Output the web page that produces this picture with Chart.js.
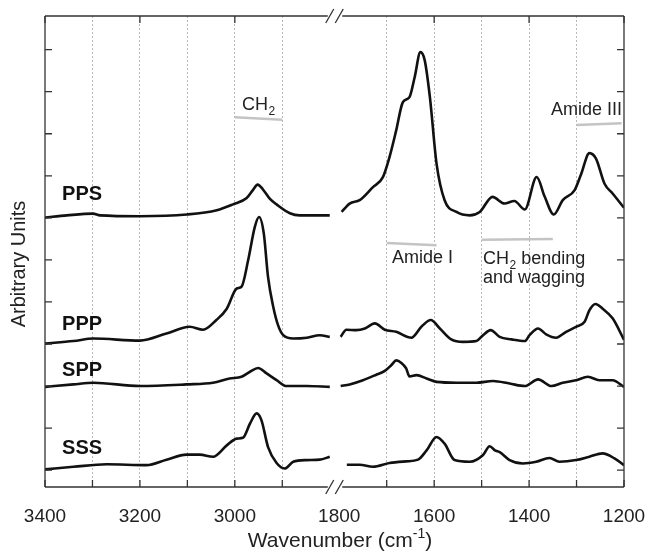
<!DOCTYPE html>
<html>
<head>
<meta charset="utf-8">
<script src="https://cdn.jsdelivr.net/npm/chart.js@4.4.1/dist/chart.umd.min.js"></script>
<style>
  html, body { margin: 0; padding: 0; background: #fff; }
</style>
</head>
<body>
<canvas id="irChart" width="647" height="559"></canvas>
<script>
// ---- Espectros IR (unidades arbitrarias, ya desplazados verticalmente) ----
// PPS
const ppsWnL = [3400, 3354, 3299, 3284, 3200, 3101, 3038, 3004, 2975, 2962, 2952, 2941, 2926, 2912, 2884, 2863, 2800];
const ppsAbL = [6.01, 6.06, 6.10, 6.06, 6.04, 6.08, 6.18, 6.32, 6.47, 6.66, 6.79, 6.68, 6.45, 6.32, 6.11, 6.06, 6.06];
const ppsWnR = [1795, 1778, 1757, 1729, 1708, 1694, 1680, 1666, 1652, 1641, 1629, 1620, 1609, 1595, 1578, 1553, 1525, 1504, 1477, 1452, 1431, 1409, 1384, 1367, 1348, 1329, 1304, 1290, 1273, 1259, 1241, 1224, 1200];
const ppsAbR = [6.14, 6.34, 6.42, 6.73, 6.97, 7.45, 8.08, 8.75, 8.87, 9.35, 9.94, 9.75, 8.87, 7.29, 6.42, 6.14, 6.06, 6.14, 6.50, 6.34, 6.40, 6.20, 6.97, 6.50, 6.08, 6.42, 6.66, 7.05, 7.54, 7.41, 6.81, 6.58, 6.24];
// PPP
const pppWnL = [3400, 3340, 3298, 3200, 3144, 3095, 3067, 3039, 3017, 2996, 2986, 2972, 2958, 2949, 2939, 2930, 2919, 2909, 2898, 2877, 2848, 2821, 2800];
const pppAbL = [3.01, 3.07, 3.13, 3.08, 3.25, 3.41, 3.34, 3.57, 3.84, 4.32, 4.36, 4.99, 5.78, 6.02, 5.63, 4.59, 3.88, 3.45, 3.21, 3.13, 3.15, 3.21, 3.17];
const pppWnR = [1797, 1785, 1764, 1746, 1725, 1704, 1680, 1648, 1627, 1607, 1588, 1564, 1539, 1511, 1497, 1481, 1462, 1437, 1409, 1399, 1381, 1364, 1343, 1322, 1301, 1283, 1273, 1260, 1245, 1224, 1200];
const pppAbR = [3.17, 3.34, 3.33, 3.37, 3.49, 3.34, 3.29, 3.15, 3.41, 3.57, 3.37, 3.11, 3.05, 3.07, 3.21, 3.33, 3.17, 3.11, 3.07, 3.21, 3.37, 3.23, 3.15, 3.29, 3.41, 3.53, 3.80, 3.95, 3.84, 3.61, 3.10];
// SPP
const sppWnL = [3400, 3340, 3298, 3200, 3102, 3046, 3011, 2986, 2968, 2951, 2933, 2912, 2891, 2849, 2800];
const sppAbL = [1.98, 2.04, 2.08, 2.00, 2.04, 2.08, 2.18, 2.22, 2.34, 2.43, 2.30, 2.14, 2.00, 2.00, 1.98];
const sppWnR = [1797, 1778, 1750, 1722, 1704, 1690, 1680, 1669, 1659, 1652, 1637, 1616, 1595, 1553, 1511, 1476, 1441, 1409, 1381, 1353, 1329, 1301, 1276, 1252, 1224, 1200];
const sppAbR = [2.00, 2.04, 2.14, 2.27, 2.36, 2.50, 2.61, 2.55, 2.42, 2.23, 2.26, 2.18, 2.10, 2.08, 2.08, 2.12, 2.06, 2.00, 2.16, 2.00, 2.08, 2.14, 2.22, 2.14, 2.14, 1.98];
// SSS
const sssWnL = [3400, 3340, 3270, 3186, 3144, 3102, 3074, 3046, 3017, 2996, 2983, 2968, 2954, 2944, 2930, 2912, 2895, 2877, 2849, 2821, 2800];
const sssAbL = [0.02, 0.08, 0.14, 0.12, 0.25, 0.37, 0.37, 0.32, 0.59, 0.75, 0.77, 1.11, 1.35, 1.19, 0.55, 0.17, 0.04, 0.20, 0.24, 0.25, 0.32];
const sssWnR = [1784, 1757, 1729, 1694, 1659, 1634, 1616, 1595, 1578, 1557, 1525, 1497, 1483, 1472, 1462, 1441, 1413, 1385, 1357, 1336, 1301, 1273, 1245, 1220, 1200];
const sssAbR = [0.13, 0.13, 0.08, 0.17, 0.21, 0.25, 0.47, 0.79, 0.63, 0.24, 0.20, 0.36, 0.57, 0.47, 0.43, 0.24, 0.16, 0.20, 0.29, 0.20, 0.24, 0.32, 0.40, 0.28, 0.12];

// Ticks del eje x (numero de onda) y del eje y
const tickWn = [3400, 3300, 3200, 3100, 3000, 2900, 2800, 1800, 1700, 1600, 1500, 1400, 1300, 1200];
const labelWn = [3400, 3200, 3000, 1800, 1600, 1400, 1200];
const gridWn = [3300, 3200, 3100, 3000, 2900, 1700, 1600, 1500, 1400, 1300];
const yTicks = [0, 1, 2, 3, 4, 5, 6, 7, 8, 9, 10];

// El eje esta cortado: 3400-2800 y 1800-1200, con un pequeño hueco entre ambos
const GAP = 20;
const toAxis = (wn) => wn >= 2800 ? 3400 - wn : 600 + GAP + (1800 - wn);
const fromAxis = (u) => u <= 600 ? 3400 - u : 1800 - (u - 600 - GAP);

const buildSeries = (wnL, abL, wnR, abR) => [
    ...wnL.map((w, i) => ({ x: toAxis(w), y: abL[i] })),
    { x: 610, y: null },
    ...wnR.map((w, i) => ({ x: toAxis(w), y: abR[i] }))
];

const FONT = '"Liberation Sans", Arial, Helvetica, sans-serif';
Chart.defaults.font.family = FONT;

// Texto, marcos, ticks hacia adentro y marcas de corte
const decorPlugin = {
    id: 'decor',
    afterDatasetsDraw(chart) {
        const ctx = chart.ctx;
        const xs = chart.scales.x;
        const ys = chart.scales.y;
        const px = (wn) => xs.getPixelForValue(toAxis(wn));
        const py = (v) => ys.getPixelForValue(v);
        const { left, right, top, bottom } = chart.chartArea;

        ctx.save();
        // marco con hueco en el corte
        ctx.strokeStyle = '#333';
        ctx.lineWidth = 1.3;
        const b1 = xs.getPixelForValue(600) - 2;
        const b2 = xs.getPixelForValue(600 + GAP) + 3;
        ctx.beginPath();
        ctx.moveTo(left, top); ctx.lineTo(b1, top);
        ctx.moveTo(b2, top); ctx.lineTo(right, top);
        ctx.moveTo(left, bottom); ctx.lineTo(b1, bottom);
        ctx.moveTo(b2, bottom); ctx.lineTo(right, bottom);
        ctx.moveTo(left, top); ctx.lineTo(left, bottom);
        ctx.moveTo(right, top); ctx.lineTo(right, bottom);
        ctx.stroke();

        // marcas "//"
        [600, 600 + GAP].forEach((u) => {
            const x = xs.getPixelForValue(u);
            [top, bottom].forEach((y) => {
                ctx.beginPath();
                ctx.moveTo(x - 4, y + 7);
                ctx.lineTo(x + 4, y - 7);
                ctx.stroke();
            });
        });

        // ticks x hacia adentro
        xs.ticks.forEach((t) => {
            const wn = fromAxis(t.value);
            if (wn === 2800 || wn === 1800) return;
            const x = xs.getPixelForValue(t.value);
            ctx.beginPath();
            ctx.moveTo(x, bottom); ctx.lineTo(x, bottom - 7);
            if (wn % 200 === 0) { ctx.moveTo(x, top); ctx.lineTo(x, top + 7); }
            ctx.stroke();
        });
        // ticks y hacia adentro, izquierda y derecha
        ys.ticks.forEach((t) => {
            const y = ys.getPixelForValue(t.value);
            ctx.beginPath();
            ctx.moveTo(left, y); ctx.lineTo(left + 7, y);
            ctx.moveTo(right, y); ctx.lineTo(right - 7, y);
            ctx.stroke();
        });

        // lineas grises de las bandas
        ctx.strokeStyle = '#c4c4c4';
        ctx.lineWidth = 2.5;
        const bands = [
            [3000, 8.39, 2900, 8.33],
            [1700, 5.40, 1595, 5.35],
            [1500, 5.48, 1350, 5.50],
            [1300, 8.21, 1205, 8.25]
        ];
        bands.forEach(([w1, v1, w2, v2]) => {
            ctx.beginPath();
            ctx.moveTo(px(w1), py(v1));
            ctx.lineTo(px(w2), py(v2));
            ctx.stroke();
        });

        // nombres de las muestras
        ctx.fillStyle = '#111';
        ctx.textBaseline = 'alphabetic';
        ctx.textAlign = 'left';
        ctx.font = 'bold 20px ' + FONT;
        [['PPS', 6.43], ['PPP', 3.33], ['SPP', 2.24], ['SSS', 0.39]].forEach(([name, v]) => {
            ctx.fillText(name, px(3364), py(v));
        });

        // etiquetas de bandas (con subindice)
        ctx.fillStyle = '#222';
        const sub = (x, y, main, s, rest) => {
            ctx.font = '18px ' + FONT;
            ctx.fillText(main, x, y);
            let w = ctx.measureText(main).width;
            ctx.font = '12px ' + FONT;
            ctx.fillText(s, x + w + 0.5, y + 5);
            w += ctx.measureText(s).width + 0.5;
            if (rest) {
                ctx.font = '18px ' + FONT;
                ctx.fillText(rest, x + w, y);
            }
        };
        sub(px(2985), py(8.57), 'CH', '2', '');
        sub(px(1497), py(4.90), 'CH', '2', ' bending');
        ctx.font = '18px ' + FONT;
        ctx.fillText('and wagging', px(1497), py(4.45));
        ctx.fillText('Amide I', px(1689), py(4.93));
        ctx.textAlign = 'right';
        ctx.fillText('Amide III', px(1204), py(8.45));

        // titulos de los ejes
        ctx.textAlign = 'left';
        ctx.font = '21px ' + FONT;
        const t1 = 'Wavenumber (cm';
        const w1 = ctx.measureText(t1).width;
        ctx.font = '14px ' + FONT;
        const ws = ctx.measureText('-1').width;
        ctx.font = '21px ' + FONT;
        const w3 = ctx.measureText(')').width;
        const startX = 340 - (w1 + ws + w3) / 2;
        ctx.fillText(t1, startX, 547);
        ctx.font = '14px ' + FONT;
        ctx.fillText('-1', startX + w1, 538);
        ctx.font = '21px ' + FONT;
        ctx.fillText(')', startX + w1 + ws, 547);

        ctx.font = '20px ' + FONT;
        ctx.translate(19, 264);
        ctx.rotate(-Math.PI / 2);
        ctx.textAlign = 'center';
        ctx.textBaseline = 'middle';
        ctx.fillText('Arbitrary Units', 0, 0);
        ctx.restore();
    }
};

const lineStyle = {
    borderColor: '#111',
    borderWidth: 2.6,
    pointRadius: 0,
    fill: false,
    cubicInterpolationMode: 'monotone',
    spanGaps: false
};

const irChart = new Chart(document.getElementById('irChart'), {
    type: 'line',
    data: {
        datasets: [
            { label: 'PPS', data: buildSeries(ppsWnL, ppsAbL, ppsWnR, ppsAbR), ...lineStyle },
            { label: 'PPP', data: buildSeries(pppWnL, pppAbL, pppWnR, pppAbR), ...lineStyle },
            { label: 'SPP', data: buildSeries(sppWnL, sppAbL, sppWnR, sppAbR), ...lineStyle },
            { label: 'SSS', data: buildSeries(sssWnL, sssAbL, sssWnR, sssAbR), ...lineStyle }
        ]
    },
    options: {
        responsive: false,
        animation: false,
        devicePixelRatio: 1,
        layout: { padding: { top: 16, right: 23, left: 0, bottom: 0 } },
        plugins: { legend: { display: false }, tooltip: { enabled: false } },
        scales: {
            x: {
                type: 'linear',
                min: 0,
                max: 600 + GAP + 600,
                afterFit: (scale) => {
                    scale.height = 72;
                    scale.paddingLeft = 0;
                    scale.paddingRight = 0;
                },
                afterBuildTicks: (scale) => { scale.ticks = tickWn.map((w) => ({ value: toAxis(w) })); },
                border: { display: false, dash: [2, 2] },
                grid: {
                    drawTicks: false,
                    lineWidth: 1,
                    color: (c) => (c.tick && gridWn.includes(fromAxis(c.tick.value))) ? '#b8b8b8' : 'rgba(0,0,0,0)'
                },
                ticks: {
                    autoSkip: false,
                    maxRotation: 0,
                    padding: 18,
                    color: '#222',
                    font: { size: 19 },
                    callback: (value) => labelWn.includes(fromAxis(value)) ? String(fromAxis(value)) : ''
                }
            },
            y: {
                min: -0.4,
                max: 10.8,
                afterFit: (scale) => { scale.width = 45; },
                afterBuildTicks: (scale) => { scale.ticks = yTicks.map((v) => ({ value: v })); },
                border: { display: false },
                grid: { display: false },
                ticks: { display: false }
            }
        }
    },
    plugins: [decorPlugin]
});
</script>
</body>
</html>
